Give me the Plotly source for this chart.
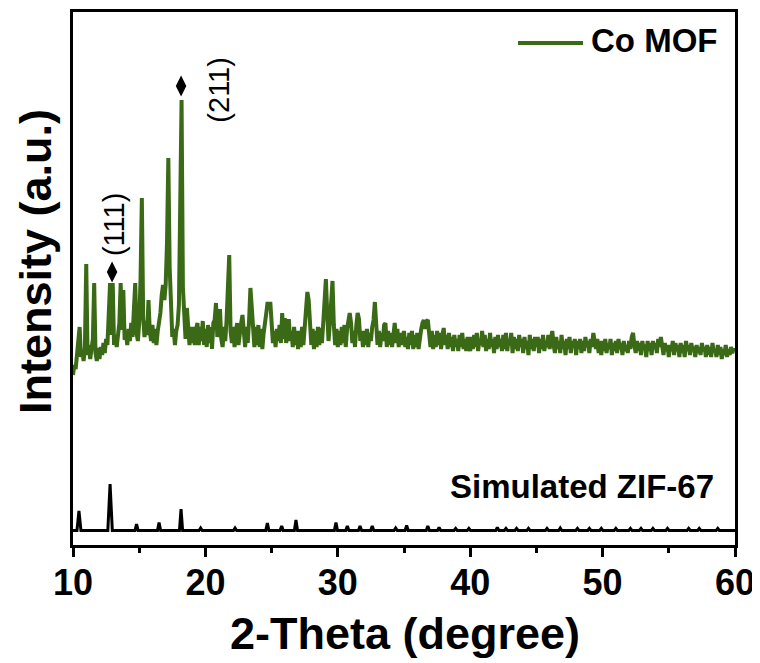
import plotly.graph_objects as go

# ---------------- data ----------------
# Co MOF measured pattern, 0.1 deg steps from 10.0 to 60.0
mof_start, mof_step, mof_n = 10.0, 0.1, 501
mof_intensity = [
    170, 180, 176, 192, 200, 218, 188, 194, 184, 198,
    281, 190, 200, 186, 196, 206, 262, 192, 184, 197,
    186, 198, 190, 202, 192, 206, 200, 232, 262, 210,
    262, 200, 210, 198, 214, 222, 262, 215, 255, 205,
    212, 200, 216, 204, 222, 208, 236, 262, 212, 204,
    222, 265, 347, 228, 208, 224, 210, 245, 214, 204,
    220, 202, 216, 200, 214, 222, 232, 250, 260, 245,
    260, 302, 387, 278, 224, 208, 216, 200, 214, 220,
    240, 330, 445, 258, 220, 206, 237, 210, 200, 218,
    202, 218, 200, 216, 222, 200, 218, 204, 224, 200,
    216, 198, 220, 202, 218, 196, 222, 225, 242, 208,
    224, 236, 206, 198, 218, 204, 225, 255, 290, 214,
    202, 218, 198, 214, 222, 200, 216, 222, 230, 206,
    198, 218, 202, 225, 257, 238, 206, 198, 218, 200,
    220, 198, 216, 196, 212, 220, 232, 243, 236, 243,
    220, 202, 214, 198, 216, 204, 220, 202, 232, 206,
    227, 202, 210, 226, 204, 214, 198, 218, 200, 214,
    196, 214, 198, 218, 200, 216, 226, 253, 245, 210,
    200, 216, 196, 214, 198, 218, 200, 217, 202, 222,
    240, 266, 232, 204, 222, 245, 264, 220, 200, 216,
    198, 214, 200, 218, 202, 220, 198, 216, 222, 232,
    222, 202, 214, 198, 220, 232, 226, 204, 214, 198,
    214, 200, 216, 198, 212, 204, 218, 225, 243, 218,
    200, 214, 198, 212, 204, 220, 222, 198, 214, 200,
    212, 198, 214, 222, 202, 216, 198, 212, 200, 210,
    214, 198, 208, 196, 212, 200, 214, 196, 210, 198,
    212, 196, 208, 216, 222, 225, 216, 224, 225, 206,
    198, 214, 196, 210, 198, 214, 200, 212, 196, 210,
    217, 200, 210, 196, 212, 198, 208, 194, 210, 198,
    206, 194, 210, 198, 212, 196, 206, 194, 208, 200,
    194, 208, 196, 210, 198, 212, 194, 206, 200, 214,
    198, 210, 194, 206, 196, 212, 198, 206, 192, 208,
    196, 210, 198, 206, 194, 210, 196, 212, 194, 206,
    200, 212, 192, 208, 196, 206, 194, 210, 198, 206,
    192, 208, 196, 204, 190, 210, 196, 206, 194, 208,
    198, 208, 192, 206, 196, 210, 194, 204, 198, 210,
    196, 206, 214, 200, 192, 208, 196, 204, 192, 210,
    196, 204, 190, 206, 196, 208, 192, 204, 198, 206,
    190, 204, 196, 206, 192, 204, 194, 208, 198, 204,
    192, 206, 198, 212, 200, 196, 206, 192, 204, 190,
    204, 194, 206, 192, 202, 196, 206, 190, 202, 194,
    204, 192, 206, 196, 202, 190, 204, 194, 200, 192,
    204, 196, 208, 212, 200, 192, 204, 194, 202, 190,
    204, 196, 200, 188, 204, 194, 202, 190, 204, 196,
    202, 192, 206, 198, 208, 200, 190, 202, 194, 200,
    188, 200, 194, 204, 190, 202, 194, 200, 188, 202,
    192, 200, 188, 204, 194, 200, 190, 202, 194, 198,
    188, 200, 192, 198, 190, 202, 194, 198, 188, 200,
    190, 198, 188, 202, 192, 196, 188, 200, 190, 198,
    186, 196, 190, 200, 188, 196, 190, 198, 192, 196,
    194,
]

# Simulated ZIF-67 reflections (stick-like peaks on a flat baseline)
sim_baseline = 14.5
sim_peak_pos = [10.45, 12.8, 14.8, 16.5, 18.16, 19.64, 22.24, 24.68, 25.76, 26.84,
                29.86, 30.72, 31.68, 32.6, 34.37, 35.2, 36.8, 37.65, 38.9, 39.9,
                42.05, 42.7, 43.5, 44.4, 45.8, 46.8, 48.1, 49.0, 49.9, 51.0,
                52.1, 52.9, 53.8, 54.9, 56.5, 57.3, 58.7]
sim_peak_int = [34, 61, 21, 22.5, 36, 17, 17, 22, 19, 25,
                22.5, 19, 19, 19, 17, 19.5, 19, 17.5, 16.5, 16.5,
                17.5, 16.5, 16.5, 16.5, 16.5, 17, 16.5, 16.5, 16.5, 16.5,
                16.5, 16.5, 16.5, 16.5, 16.5, 16.5, 16.5]
sim_half_width = [0.15, 0.17] + [0.12] * 35

x_ticks = [10, 20, 30, 40, 50, 60]
x_minor_ticks = [15, 25, 35, 45, 55]

# ---------------- build traces ----------------
mof_x = [round(mof_start + mof_step * i, 1) for i in range(mof_n)]

sim_x, sim_y = [10.0], [sim_baseline]
for p, h, w in zip(sim_peak_pos, sim_peak_int, sim_half_width):
    sim_x += [p - w, p, p + w]
    sim_y += [sim_baseline, h, sim_baseline]
sim_x.append(60.0)
sim_y.append(sim_baseline)

GREEN = "#3b6a16"
FONT = "Arial, Liberation Sans, sans-serif"

W, H = 760, 663
OFF = 8  # page body margin offset in the browser
# target plot area on the page: x 73..735, y 12..545
L, T = 73 - OFF, 12 - OFF
R, B = W - (735 - OFF), H - (545 - OFF)
PW, PH = W - L - R, H - T - B


def px(xp):
    """page pixel x -> paper coordinate"""
    return (xp - OFF - L) / PW


def py(yp):
    """page pixel y -> paper coordinate"""
    return (H - B - (yp - OFF)) / PH


fig = go.Figure()
fig.add_trace(go.Scatter(x=mof_x, y=mof_intensity, mode="lines",
                         line=dict(color=GREEN, width=4), name="Co MOF",
                         showlegend=False))
fig.add_trace(go.Scatter(x=sim_x, y=sim_y, mode="lines",
                         line=dict(color="black", width=3), name="Simulated ZIF-67",
                         showlegend=False))
# diamond markers for indexed reflections
fig.add_trace(go.Scatter(x=[12.95, 18.16], y=[273, 459], mode="markers",
                         marker=dict(symbol="diamond-tall", size=15, color="black"),
                         showlegend=False, hoverinfo="skip"))

fig.update_layout(
    width=W, height=H,
    margin=dict(l=L, r=R, t=T, b=B, autoexpand=False),
    paper_bgcolor="white", plot_bgcolor="white",
    font=dict(family=FONT, color="black"),
    xaxis=dict(
        range=[10, 60], tickvals=x_ticks, ticktext=[f"<b>{t}</b>" for t in x_ticks],
        ticks="outside", ticklen=9, tickwidth=3, tickcolor="black",
        minor=dict(ticks="outside", ticklen=5, tickwidth=3, tickcolor="black",
                   tickvals=x_minor_ticks),
        showline=True, linewidth=3, linecolor="black", mirror=True,
        showgrid=False, zeroline=False, automargin=False,
        ticklabelstandoff=-5,
        tickfont=dict(size=36, family=FONT, color="black"),
    ),
    yaxis=dict(
        range=[0, 533], showticklabels=False, ticks="",
        showline=True, linewidth=3, linecolor="black", mirror=True,
        showgrid=False, zeroline=False, automargin=False,
    ),
)

# axis titles
fig.add_annotation(text="<b>2-Theta (degree)</b>", xref="paper", yref="paper",
                   x=px(405), y=py(633), showarrow=False,
                   font=dict(size=45, family=FONT, color="black"),
                   xanchor="center", yanchor="middle")
fig.add_annotation(text="<b>Intensity (a.u.)</b>", xref="paper", yref="paper",
                   x=px(35), y=py(262), textangle=-90, showarrow=False,
                   font=dict(size=45, family=FONT, color="black"),
                   xanchor="center", yanchor="middle")
# peak labels
fig.add_annotation(text="(111)", x=13.1, y=320, textangle=-90, showarrow=False,
                   font=dict(size=29, family=FONT, color="black"),
                   xanchor="center", yanchor="middle")
fig.add_annotation(text="(211)", x=21.0, y=455, textangle=-90, showarrow=False,
                   font=dict(size=29, family=FONT, color="black"),
                   xanchor="center", yanchor="middle")
# pattern label
fig.add_annotation(text="<b>Simulated ZIF-67</b>", x=48.44, y=59, showarrow=False,
                   font=dict(size=33, family=FONT, color="black"),
                   xanchor="center", yanchor="middle")
# legend (line sample + text)
fig.add_shape(type="line", xref="paper", yref="paper",
              x0=px(518), x1=px(583), y0=py(43), y1=py(43),
              line=dict(color=GREEN, width=4))
fig.add_annotation(text="<b>Co MOF</b>", xref="paper", yref="paper",
                   x=px(589), y=py(41), showarrow=False,
                   font=dict(size=33, family=FONT, color="black"),
                   xanchor="left", yanchor="middle")

fig.write_html("out.html")
